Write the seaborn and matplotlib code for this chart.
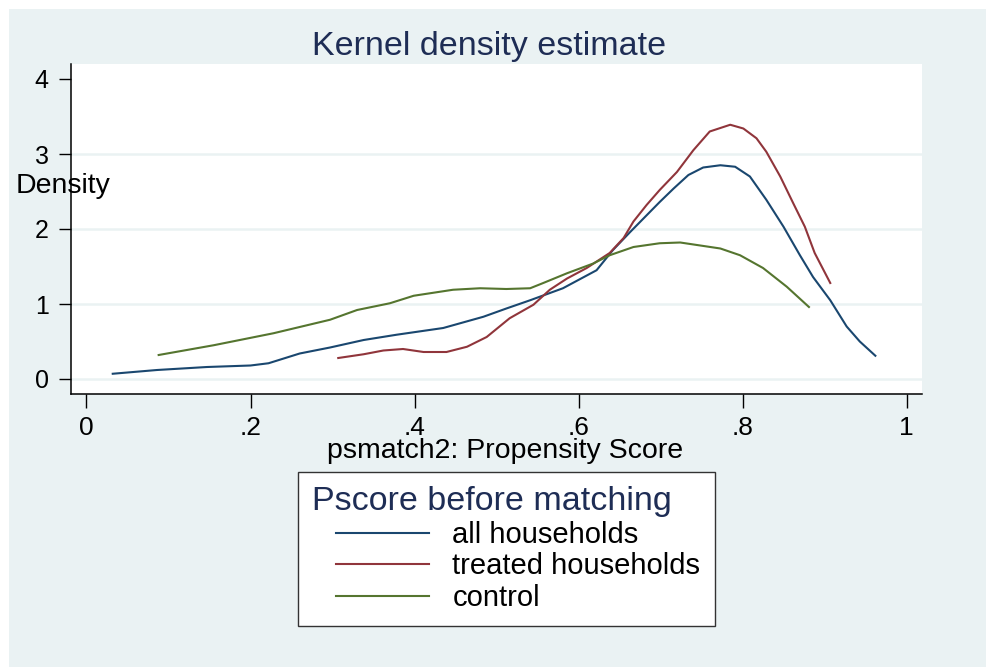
import matplotlib.pyplot as plt
import matplotlib.patches as mpatches
from matplotlib.legend_handler import HandlerLine2D
import seaborn as sns
import pandas as pd

# values
all_x = [0.032, 0.086, 0.147, 0.200, 0.222, 0.260, 0.297, 0.338, 0.378, 0.435, 0.484, 0.512,
         0.541, 0.581, 0.622, 0.642, 0.663, 0.699, 0.716, 0.734, 0.752, 0.773, 0.791, 0.809,
         0.829, 0.850, 0.870, 0.886, 0.907, 0.927, 0.943, 0.962]
all_y = [0.07, 0.12, 0.16, 0.18, 0.21, 0.34, 0.42, 0.52, 0.59, 0.68, 0.83, 0.94,
         1.05, 1.21, 1.45, 1.72, 1.96, 2.36, 2.54, 2.72, 2.82, 2.85, 2.83, 2.70,
         2.39, 2.03, 1.65, 1.36, 1.05, 0.70, 0.50, 0.31]

treated_x = [0.307, 0.338, 0.362, 0.386, 0.411, 0.439, 0.464, 0.488, 0.516, 0.545, 0.565,
             0.586, 0.610, 0.638, 0.655, 0.667, 0.683, 0.699, 0.720, 0.740, 0.760, 0.785,
             0.801, 0.817, 0.829, 0.846, 0.862, 0.876, 0.888, 0.907]
treated_y = [0.28, 0.33, 0.38, 0.40, 0.36, 0.36, 0.43, 0.56, 0.81, 0.99, 1.19,
             1.34, 1.48, 1.68, 1.88, 2.10, 2.32, 2.52, 2.76, 3.05, 3.30, 3.39,
             3.34, 3.21, 3.03, 2.70, 2.34, 2.03, 1.68, 1.28]

control_x = [0.088, 0.155, 0.228, 0.297, 0.330, 0.370, 0.399, 0.447, 0.480, 0.512, 0.541,
             0.557, 0.586, 0.618, 0.638, 0.667, 0.699, 0.724, 0.773, 0.797, 0.825, 0.854, 0.881]
control_y = [0.32, 0.45, 0.61, 0.79, 0.92, 1.01, 1.11, 1.19, 1.21, 1.20, 1.21,
             1.28, 1.41, 1.54, 1.65, 1.76, 1.81, 1.82, 1.74, 1.65, 1.48, 1.23, 0.96]

labels = ['all households', 'treated households', 'control']
colors = ['#1A476F', '#90353B', '#55752F']
xticks = [0, 0.2, 0.4, 0.6, 0.8, 1]
xticklabels = ['0', '.2', '.4', '.6', '.8', '1']
yticks = [0, 1, 2, 3, 4]

df = pd.concat([
    pd.DataFrame({'score': all_x, 'density': all_y, 'group': labels[0]}),
    pd.DataFrame({'score': treated_x, 'density': treated_y, 'group': labels[1]}),
    pd.DataFrame({'score': control_x, 'density': control_y, 'group': labels[2]}),
])

plt.rcParams['font.family'] = ['Liberation Sans', 'DejaVu Sans']
bg = '#EAF2F3'
navy = '#1E2D55'

fig = plt.figure(figsize=(9.86, 6.67), dpi=100, facecolor='white')
fig.patches.append(mpatches.Rectangle((9 / 986, 0), 1, 658 / 667, transform=fig.transFigure,
                                      facecolor=bg, edgecolor='none', zorder=-10))
ax = fig.add_axes([71 / 986, 1 - 394 / 667, 850.7 / 986, 330 / 667])
ax.set_facecolor('white')

sns.lineplot(data=df, x='score', y='density', hue='group', hue_order=labels,
             palette=colors, linewidth=1.5, sort=False, estimator=None, legend=False, ax=ax)

ax.set_xlim(-0.0189, 1.0185)
ax.set_ylim(-0.2, 4.2)
ax.set_xticks(xticks)
ax.set_xticklabels(xticklabels)
ax.set_yticks(yticks)
ax.tick_params(axis='x', labelsize=19, length=10, width=1, pad=6, colors='black')
ax.tick_params(axis='y', labelsize=18, length=9, width=1, pad=7, colors='black')
ax.set_xlabel('')
ax.set_ylabel('')
for s in ['top', 'right']:
    ax.spines[s].set_visible(False)
for s in ['left', 'bottom']:
    ax.spines[s].set_color('black')
    ax.spines[s].set_linewidth(1.1)
ax.yaxis.grid(True, color=bg, linewidth=1.8)
ax.xaxis.grid(False)
ax.set_axisbelow(True)
ax.yaxis.get_gridlines()[-1].set_visible(False)

fig.text(489 / 986, 1 - 55 / 667, 'Kernel density estimate', ha='center', va='baseline',
         fontsize=24.5, color=navy)
fig.text(16 / 986, 1 - 193 / 667, 'Density', ha='left', va='baseline', fontsize=20.5)
fig.text(505 / 986, 1 - 458 / 667, 'psmatch2: Propensity Score', ha='center', va='baseline',
         fontsize=20.5)

handles = ax.get_lines()[:3]
leg = fig.legend(handles, labels, loc='upper left',
                 bbox_to_anchor=(297.7 / 986, 1 - 471.7 / 667), bbox_transform=fig.transFigure,
                 title='Pscore before matching', title_fontsize=24.5, fontsize=21,
                 alignment='left', frameon=True, fancybox=False, framealpha=1,
                 edgecolor='#333333', borderaxespad=0, handlelength=4.0, handletextpad=0.8,
                 labelspacing=0.12, borderpad=0.5,
                 handler_map={h: HandlerLine2D(xpad=0.8) for h in handles})
leg.get_title().set_color(navy)
leg.get_frame().set_linewidth(1.0)

fig.savefig('out.png', dpi=100, facecolor=fig.get_facecolor())
